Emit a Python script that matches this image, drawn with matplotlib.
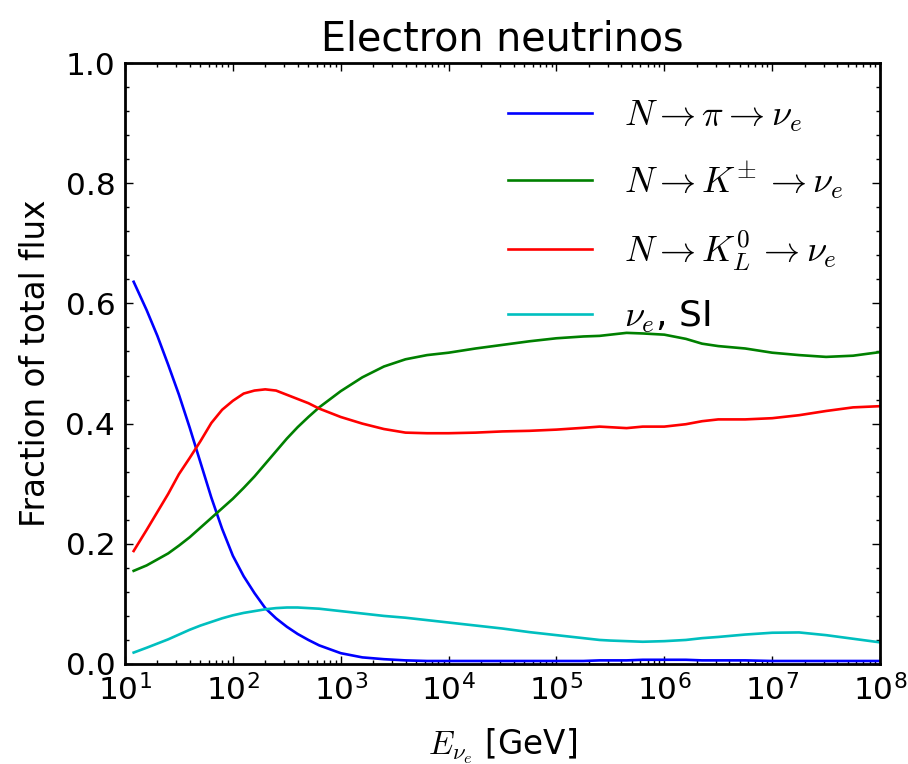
import matplotlib
matplotlib.use('Agg')
import matplotlib.pyplot as plt
import numpy as np
from matplotlib.ticker import AutoMinorLocator, LogLocator, NullFormatter

plt.rcParams['mathtext.fontset'] = 'cm'

# log10 of neutrino energy [GeV]
log_energy = [1.08, 1.2, 1.3, 1.4, 1.5, 1.6, 1.7, 1.8, 1.9, 2.0, 2.1, 2.2, 2.3,
              2.4, 2.5, 2.6, 2.7, 2.8,
              3.0, 3.2, 3.4, 3.6, 3.8,
              4.0, 4.25, 4.5, 4.75, 5.0, 5.25, 5.4, 5.5, 5.65, 5.8, 6.0, 6.2,
              6.35, 6.5, 6.75, 7.0, 7.25, 7.5, 7.75, 8.0]

frac_pion = [0.636, 0.589, 0.546, 0.498, 0.448, 0.393, 0.335, 0.277, 0.225,
             0.180, 0.146, 0.118, 0.093, 0.076, 0.062, 0.050, 0.040, 0.031,
             0.018, 0.011, 0.008, 0.006, 0.005,
             0.005, 0.005, 0.005, 0.005, 0.005, 0.005, 0.006, 0.006, 0.006,
             0.007, 0.007, 0.007, 0.006, 0.006, 0.006, 0.005, 0.005, 0.005,
             0.005, 0.005]
frac_kpm = [0.155, 0.164, 0.174, 0.184, 0.197, 0.211, 0.227, 0.243, 0.259,
            0.275, 0.293, 0.312, 0.333, 0.354, 0.375, 0.394, 0.411, 0.427,
            0.454, 0.477, 0.495, 0.507, 0.514,
            0.518, 0.525, 0.531, 0.537, 0.542, 0.545, 0.546, 0.548, 0.551,
            0.550, 0.548, 0.541, 0.533, 0.529, 0.525, 0.518, 0.514, 0.511,
            0.513, 0.519]
frac_k0l = [0.188, 0.223, 0.253, 0.283, 0.316, 0.343, 0.371, 0.401, 0.423,
            0.438, 0.450, 0.455, 0.457, 0.455, 0.448, 0.441, 0.434, 0.425,
            0.411, 0.400, 0.391, 0.385, 0.384,
            0.384, 0.385, 0.387, 0.388, 0.390, 0.393, 0.395, 0.394, 0.3925,
            0.395, 0.395, 0.399, 0.404, 0.407, 0.407, 0.409, 0.414, 0.421,
            0.427, 0.429]
frac_si = [0.019, 0.027, 0.034, 0.041, 0.049, 0.057, 0.064, 0.070, 0.076,
           0.081, 0.085, 0.088, 0.091, 0.093, 0.094, 0.094, 0.093, 0.092,
           0.088, 0.084, 0.080, 0.077, 0.073,
           0.069, 0.064, 0.059, 0.053, 0.048, 0.043, 0.040, 0.039, 0.038,
           0.037, 0.038, 0.040, 0.043, 0.045, 0.049, 0.052, 0.0525, 0.048,
           0.042, 0.036]

labels = [r'$N\rightarrow\pi\rightarrow\nu_e$',
          r'$N\rightarrow K^{\pm}\,\rightarrow\nu_e$',
          r'$N\rightarrow K_L^0\,\rightarrow\nu_e$',
          r'$\nu_e$, SI']
colors = ['#0000ff', '#008000', '#ff0000', '#00bfbf']

energy = 10 ** np.array(log_energy)

fig = plt.figure(figsize=(9.08, 7.64), dpi=100)
ax = fig.add_axes([0.1377, 0.1309, 0.8315, 0.7866])

for y, lab, c in zip([frac_pion, frac_kpm, frac_k0l, frac_si], labels, colors):
    ax.plot(energy, y, color=c, lw=1.9, label=lab)

ax.set_xscale('log')
ax.set_xlim(10, 1e8)
ax.set_ylim(0, 1)
ax.xaxis.set_major_locator(LogLocator(base=10, numticks=20))
ax.xaxis.set_minor_locator(LogLocator(base=10, subs=np.arange(2, 10), numticks=20))
ax.xaxis.set_minor_formatter(NullFormatter())
ax.yaxis.set_minor_locator(AutoMinorLocator(5))

ax.tick_params(which='both', direction='in', top=True, right=True, width=1)
ax.tick_params(which='major', length=6, labelsize=22.5, pad=7)
ax.tick_params(which='minor', length=3)
for s in ax.spines.values():
    s.set_linewidth(2)

ax.set_title('Electron neutrinos', fontsize=28.5, pad=9)
ax.set_ylabel('Fraction of total flux', fontsize=23.5, labelpad=10)
ax.set_xlabel(r'$E_{\nu_e}$ [GeV]', fontsize=23.5, labelpad=15)

ax.legend(loc='upper right', frameon=False, fontsize=26, handlelength=2.3,
          handletextpad=0.9, labelspacing=0.72, borderaxespad=0.3,
          bbox_to_anchor=(0.985, 0.983))

fig.savefig('out.png', dpi=100)
